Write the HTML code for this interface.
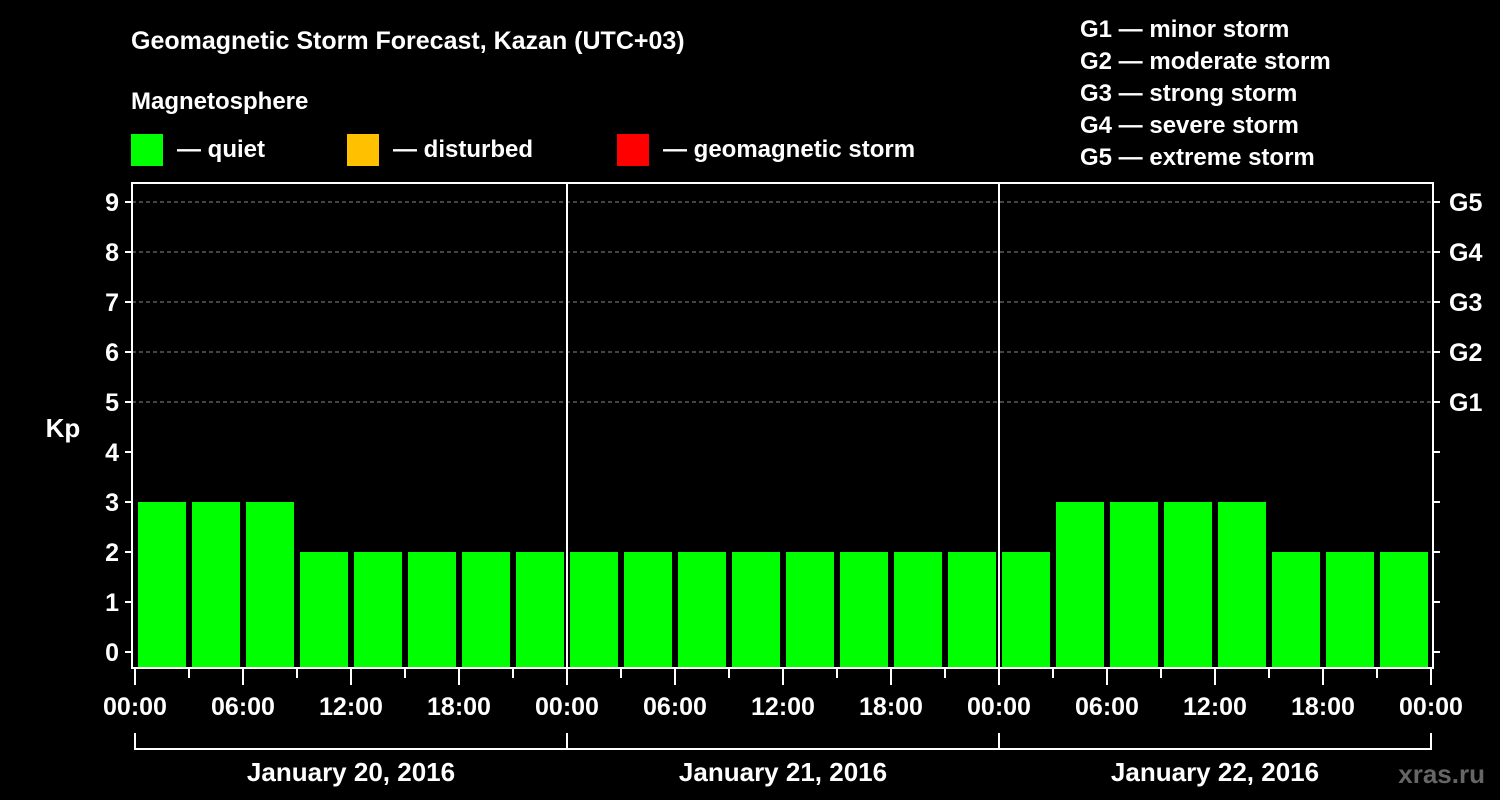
<!DOCTYPE html>
<html><head><meta charset="utf-8"><style>
html,body{margin:0;padding:0;background:#000;}
svg{display:block;font-family:"Liberation Sans",Arial,sans-serif;font-weight:bold;}
</style></head><body>
<svg id="chart" width="1500" height="800" viewBox="0 0 1500 800">
<rect x="0" y="0" width="1500" height="800" fill="#000"/>
<text x="131" y="49" fill="#fff" font-size="25">Geomagnetic Storm Forecast, Kazan (UTC+03)</text>
<text x="131" y="109" fill="#fff" font-size="24">Magnetosphere</text>
<g><rect x="131" y="134" width="32" height="32" fill="#00ff00"/><text x="177" y="157" fill="#fff" font-size="24">— quiet</text></g>
<g><rect x="347" y="134" width="32" height="32" fill="#ffc000"/><text x="393" y="157" fill="#fff" font-size="24">— disturbed</text></g>
<g><rect x="617" y="134" width="32" height="32" fill="#ff0000"/><text x="663" y="157" fill="#fff" font-size="24">— geomagnetic storm</text></g>
<g fill="#fff" font-size="24">
<text x="1080" y="37">G1 — minor storm</text>
<text x="1080" y="69">G2 — moderate storm</text>
<text x="1080" y="101">G3 — strong storm</text>
<text x="1080" y="133">G4 — severe storm</text>
<text x="1080" y="165">G5 — extreme storm</text>
</g>
<text x="63" y="437" fill="#fff" font-size="26" text-anchor="middle">Kp</text>
<text x="1485" y="783" fill="#666" font-size="26" text-anchor="end">xras.ru</text>
<g id="plot"></g>
</svg>
<script>
const kpValues = [3,3,3,2,2,2,2,2, 2,2,2,2,2,2,2,2, 2,3,3,3,3,2,2,2];
const yTicks = [0,1,2,3,4,5,6,7,8,9];
const gLabels = ["G1","G2","G3","G4","G5"];
const gLevels = [5,6,7,8,9];
const timeLabels = ["00:00","06:00","12:00","18:00"];
const dayLabels = ["January 20, 2016","January 21, 2016","January 22, 2016"];

const NS = "http://www.w3.org/2000/svg";
const plot = document.getElementById("plot");
const L = 132, R = 1433, T = 183, B = 668;
const yScale = v => 652 - v * 50;
const xScale = h => 135 + h * 18; // hours from start
function mk(tag, attrs, parent) {
  const e = document.createElementNS(NS, tag);
  for (const k in attrs) e.setAttribute(k, attrs[k]);
  (parent || plot).appendChild(e);
  return e;
}
// grid
gLevels.forEach(v => {
  const g = mk("line", {x1: L, x2: R, y1: yScale(v), y2: yScale(v), stroke: "#888", "stroke-width": 1, "stroke-dasharray": "4,3"});
  
  
});
// bars
kpValues.forEach((v, i) => {
  const x0 = xScale(i * 3) + 3;
  const y = yScale(v);
  const b = mk("rect", {x: x0, y: y, width: 48, height: B - y, fill: v >= 5 ? "#ff0000" : (v >= 4 ? "#ffc000" : "#00ff00")});
  
  
});
// day separators
for (let d = 1; d < 3; d++) {
  const s = mk("line", {x1: xScale(d * 24), x2: xScale(d * 24), y1: T, y2: B, stroke: "#fff", "stroke-width": 2});
  
  
}
// frame
const fr = mk("rect", {x: L, y: T, width: R - L, height: B - T, fill: "none", stroke: "#fff", "stroke-width": 2});


// y ticks
yTicks.forEach(v => {
  const y = yScale(v);
  const t = mk("line", {x1: L - 7, x2: L, y1: y, y2: y, stroke: "#fff", "stroke-width": 2});
  
  
  const t2 = mk("line", {x1: R, x2: R + 7, y1: y, y2: y, stroke: "#fff", "stroke-width": 2});
  
  
  const lb = mk("text", {x: L - 13, y: y + 9, fill: "#fff", "font-size": 25, "text-anchor": "end"});
  lb.textContent = v;
  
  
});
gLabels.forEach((g, i) => {
  const lb = mk("text", {x: R + 16, y: yScale(gLevels[i]) + 9, fill: "#fff", "font-size": 25});
  lb.textContent = g;
  
  
});
// x ticks
for (let h = 0; h <= 72; h += 3) {
  const major = h % 6 === 0;
  const t = mk("line", {x1: xScale(h), x2: xScale(h), y1: B, y2: major ? B + 17 : B + 10, stroke: "#fff", "stroke-width": 2});
  
  
  if (major) {
    const lb = mk("text", {x: xScale(h), y: 715, fill: "#fff", "font-size": 25, "text-anchor": "middle"});
    lb.textContent = timeLabels[(h / 6) % 4];
    
    
  }
}
// date brackets
const br = mk("path", {d: `M${xScale(0)},733 V749 H${xScale(72)} V733 M${xScale(24)},733 V749 M${xScale(48)},733 V749`, fill: "none", stroke: "#fff", "stroke-width": 2});


dayLabels.forEach((d, i) => {
  const lb = mk("text", {x: xScale(i * 24 + 12), y: 781, fill: "#fff", "font-size": 26, "text-anchor": "middle"});
  lb.textContent = d;
  
  
});
</script>
</body></html>
